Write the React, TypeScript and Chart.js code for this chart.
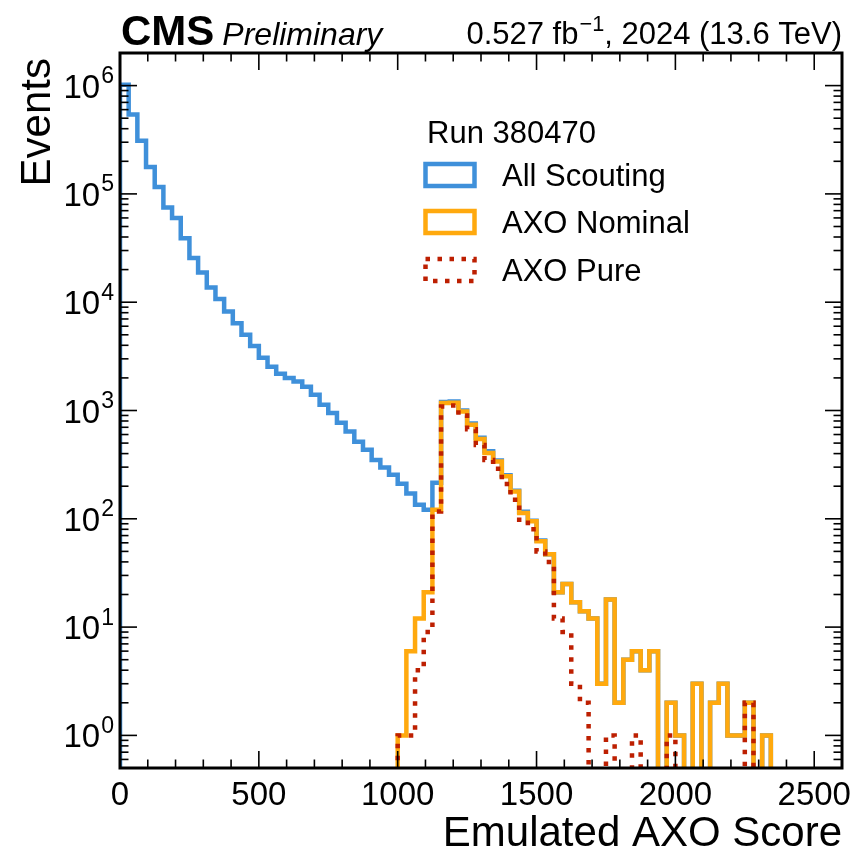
import React, { useEffect, useRef } from "react";
import { Chart, registerables } from "chart.js";

Chart.register(...registerables);

// ---------------- data ----------------
const BIN_WIDTH = 31.25;
const X_MIN = 0;
const X_MAX = 2600;
const Y_MIN = 0.5;
const Y_MAX = 2e6;
const X_MAJOR_TICKS = [0, 500, 1000, 1500, 2000, 2500];
const X_MINOR_STEP = 100;
const Y_DECADES = [0, 1, 2, 3, 4, 5, 6];

const SERIES_NAMES = ["All Scouting", "AXO Nominal", "AXO Pure"];
const LEGEND_TITLE = "Run 380470";

// All Scouting, bins from 0
const allScoutingStartBin = 0;
const allScoutingCounts = [
  1020000, 540000, 310000, 177000, 116000, 75000, 60000, 39000, 25600, 18800,
  13700, 10700, 8200, 6400, 5000, 3950, 3070, 2540, 2190, 2000,
  1850, 1660, 1400, 1130, 950, 770, 640, 515, 435, 350,
  297, 255, 211, 171, 135, 121, 215, 1200, 1210, 1000,
  760, 560, 420, 345, 252, 182, 116, 96, 63, 47,
  21, 25, 17, 14, 12, 3, 18, 2, 5, 6,
  4, 6, 0, 2, 1, 0, 3, 0, 2, 3,
  1, 1, 2, 0, 1,
];

// AXO Nominal, bins from 32 (score 1000)
const axoNominalStartBin = 32;
const axoNominalCounts = [
  1, 6, 12, 21, 121, 1170, 1180, 980, 740, 546,
  405, 339, 247, 179, 113, 95, 62, 47, 21, 25,
  17, 14, 12, 3, 18, 2, 5, 6, 4, 6,
  0, 2, 1, 0, 3, 0, 2, 3, 1, 1,
  2, 0, 1,
];

// AXO Pure, bins from 32 (score 1000)
const axoPureStartBin = 32;
const axoPureCounts = [
  1, 1, 4, 9, 117, 1090, 1110, 900, 670, 480,
  350, 290, 210, 150, 92, 80, 50, 40, 12, 9,
  3, 2, 0, 0, 1, 0, 0, 1, 0, 0,
  0, 1, 0, 0, 0, 0, 0, 0, 0, 0,
  2,
];

const COLORS = ["#3f90da", "#ffa90e", "#bd1f01"];

const FONT = "'Liberation Sans', Arial, Helvetica, sans-serif";

// empty bins are drawn down to below the visible axis range (log axis cannot show 0)
const EMPTY_LEVEL = 1e-3;

function toSteps(startBin: number, counts: number[]) {
  const lv = (c: number) => (c > 0 ? c : EMPTY_LEVEL);
  const pts: { x: number; y: number }[] = [{ x: startBin * BIN_WIDTH, y: EMPTY_LEVEL }];
  counts.forEach((c, i) => pts.push({ x: (startBin + i) * BIN_WIDTH, y: lv(c) }));
  pts.push({ x: (startBin + counts.length) * BIN_WIDTH, y: EMPTY_LEVEL });
  return pts;
}

const DOT_DASH = [4.5, 7.5];
const LINE_W = 4.5;

function drawPow(ctx: CanvasRenderingContext2D, base: string, exp: string, xRight: number, yBase: number, size: number) {
  ctx.font = `${size}px ${FONT}`;
  const bw = ctx.measureText(base).width;
  const es = size * 0.7;
  ctx.font = `${es}px ${FONT}`;
  const ew = ctx.measureText(exp).width;
  const x0 = xRight - bw - ew - 1;
  ctx.textAlign = "left";
  ctx.font = `${size}px ${FONT}`;
  ctx.fillText(base, x0, yBase);
  ctx.font = `${es}px ${FONT}`;
  ctx.fillText(exp, x0 + bw + 1, yBase - size * 0.44);
}

const decorPlugin = {
  id: "decor",
  afterDatasetsDraw(chart: any) {
    const { ctx, chartArea: a, scales } = chart;
    const xs = scales.x;
    const ys = scales.y;
    ctx.save();
    ctx.fillStyle = "#000";
    ctx.strokeStyle = "#000";

    const line = (x1: number, y1: number, x2: number, y2: number) => {
      ctx.beginPath();
      ctx.moveTo(x1, y1);
      ctx.lineTo(x2, y2);
      ctx.stroke();
    };
    const MAJ = 17;
    const MIN = 8.5;
    ctx.lineWidth = 1.6;
    // x ticks (bottom & top, inward)
    for (let v = X_MIN; v <= X_MAX; v += X_MINOR_STEP) {
      const px = xs.getPixelForValue(v);
      if (px <= a.left + 1 || px >= a.right - 1) continue;
      const len = X_MAJOR_TICKS.includes(v) ? MAJ : MIN;
      line(px, a.bottom, px, a.bottom - len);
      line(px, a.top, px, a.top + len);
    }
    // y ticks (left & right, inward)
    for (let d = -1; d <= 6; d++) {
      for (let m = 1; m <= 9; m++) {
        const v = m * Math.pow(10, d);
        if (v < Y_MIN || v > Y_MAX) continue;
        const py = ys.getPixelForValue(v);
        if (py <= a.top + 1 || py >= a.bottom - 1) continue;
        const len = m === 1 ? MAJ : MIN;
        line(a.left, py, a.left + len, py);
        line(a.right, py, a.right - len, py);
      }
    }
    // frame
    ctx.lineWidth = 3;
    ctx.strokeRect(a.left, a.top, a.right - a.left, a.bottom - a.top);

    // x tick labels
    const TICK_SIZE = 33;
    ctx.font = `${TICK_SIZE}px ${FONT}`;
    ctx.textAlign = "center";
    ctx.textBaseline = "alphabetic";
    X_MAJOR_TICKS.forEach((v) => {
      ctx.fillText(String(v), xs.getPixelForValue(v), a.bottom + 37);
    });
    // y tick labels
    Y_DECADES.forEach((d) => {
      const py = ys.getPixelForValue(Math.pow(10, d));
      drawPow(ctx, "10", String(d), a.left - 6, py + 12, TICK_SIZE);
    });

    // axis titles
    ctx.font = `42px ${FONT}`;
    ctx.textAlign = "right";
    ctx.fillText("Emulated AXO Score", a.right, 846);
    ctx.save();
    ctx.translate(50, a.top + 5);
    ctx.rotate(-Math.PI / 2);
    ctx.textAlign = "right";
    ctx.fillText("Events", 0, 0);
    ctx.restore();

    // header
    ctx.textAlign = "left";
    ctx.font = `bold 42px ${FONT}`;
    ctx.fillText("CMS", a.left + 1, 45);
    const cmsW = ctx.measureText("CMS").width;
    ctx.font = `italic 32px ${FONT}`;
    ctx.fillText("Preliminary", a.left + cmsW + 9, 45);

    const HS = 31;
    const part1 = "0.527 fb";
    const sup = "\u22121";
    const part2 = ", 2024 (13.6 TeV)";
    ctx.font = `${HS}px ${FONT}`;
    const w1 = ctx.measureText(part1).width;
    const w3 = ctx.measureText(part2).width;
    ctx.font = `${HS * 0.7}px ${FONT}`;
    const w2 = ctx.measureText(sup).width;
    let hx = a.right - (w1 + w2 + w3 + 1);
    ctx.font = `${HS}px ${FONT}`;
    ctx.fillText(part1, hx, 44);
    hx += w1 + 1;
    ctx.font = `${HS * 0.7}px ${FONT}`;
    ctx.fillText(sup, hx, 44 - 13);
    hx += w2;
    ctx.font = `${HS}px ${FONT}`;
    ctx.fillText(part2, hx, 44);

    // legend
    const LS = 31;
    ctx.font = `${LS}px ${FONT}`;
    ctx.textAlign = "left";
    ctx.fillText(LEGEND_TITLE, 427, 143);
    const centers = [175, 222, 270];
    chart.data.datasets.slice().sort((p: any, q: any) => p.legendIndex - q.legendIndex).forEach((ds: any, i: number) => {
      const cy = centers[i];
      ctx.save();
      ctx.strokeStyle = ds.borderColor;
      ctx.lineWidth = LINE_W;
      ctx.lineCap = "butt";
      ctx.setLineDash(ds.borderDash || []);
      ctx.strokeRect(425.5, cy - 11, 49, 22);
      ctx.restore();
      ctx.fillStyle = "#000";
      ctx.font = `${LS}px ${FONT}`;
      ctx.fillText(ds.label, 502, cy + 11);
    });

    ctx.restore();
  },
};

export default function App() {
  const canvasRef = useRef<HTMLCanvasElement | null>(null);

  useEffect(() => {
    document.body.style.margin = "0";
    const canvas = canvasRef.current;
    if (!canvas) return;
    const common = {
      pointRadius: 0,
      pointHoverRadius: 0,
      fill: false,
      tension: 0,
      stepped: "before" as const,
      borderWidth: LINE_W,
      borderJoinStyle: "miter" as const,
      borderCapStyle: "butt" as const,
      clip: 0,
    };
    const chart = new Chart(canvas, {
      type: "line",
      data: {
        datasets: [
          {
            ...common,
            label: SERIES_NAMES[0],
            legendIndex: 0,
            data: toSteps(allScoutingStartBin, allScoutingCounts),
            borderColor: COLORS[0],
            order: 3,
          } as any,
          {
            ...common,
            label: SERIES_NAMES[1],
            legendIndex: 1,
            data: toSteps(axoNominalStartBin, axoNominalCounts),
            borderColor: COLORS[1],
            order: 2,
          } as any,
          {
            ...common,
            label: SERIES_NAMES[2],
            legendIndex: 2,
            data: toSteps(axoPureStartBin, axoPureCounts),
            borderColor: COLORS[2],
            borderDash: DOT_DASH,
            order: 1,
          } as any,
        ],
      },
      options: {
        animation: false,
        responsive: false,
        maintainAspectRatio: false,
        events: [],
        layout: { padding: { left: 120, top: 53, right: 14, bottom: 85 } },
        plugins: { legend: { display: false }, tooltip: { enabled: false }, title: { display: false } },
        scales: {
          x: { type: "linear", display: false, min: X_MIN, max: X_MAX },
          y: { type: "logarithmic", display: false, min: Y_MIN, max: Y_MAX },
        },
      },
      plugins: [decorPlugin],
    });
    return () => chart.destroy();
  }, []);

  return (
    <div style={{ position: "absolute", left: 0, top: 0, width: 856, height: 853, background: "#fff" }}>
      <canvas ref={canvasRef} width={856} height={853} style={{ display: "block" }} />
    </div>
  );
}
